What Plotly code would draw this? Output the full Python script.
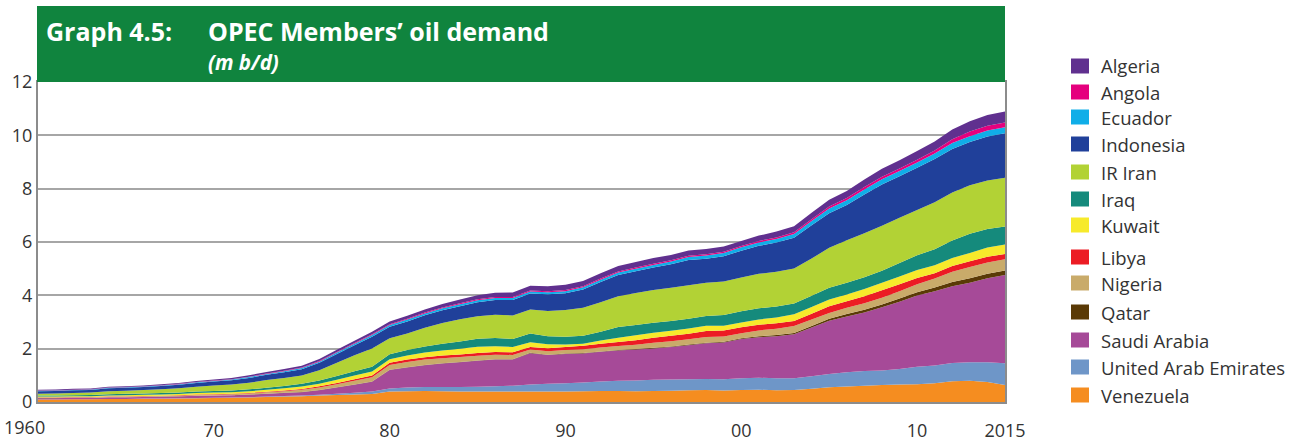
import plotly.graph_objects as go

years = list(range(1960, 2016))

# demand by country, m b/d (bottom of stack first)
venezuela = [0.09, 0.09, 0.10, 0.10, 0.11, 0.11, 0.12, 0.12, 0.13, 0.14,
             0.15, 0.16, 0.17, 0.19, 0.21, 0.22, 0.24, 0.26, 0.28, 0.30,
             0.39, 0.40, 0.41, 0.40, 0.39, 0.39, 0.39, 0.39, 0.39, 0.39,
             0.39, 0.40, 0.41, 0.41, 0.40, 0.41, 0.42, 0.44, 0.45, 0.43,
             0.45, 0.46, 0.44, 0.45, 0.50, 0.55, 0.58, 0.61, 0.64, 0.66,
             0.67, 0.70, 0.78, 0.80, 0.75, 0.64]
uae = [0.005, 0.005, 0.005, 0.005, 0.005, 0.006, 0.007, 0.008, 0.009, 0.01,
       0.01, 0.01, 0.012, 0.015, 0.018, 0.02, 0.03, 0.05, 0.07, 0.09,
       0.12, 0.14, 0.15, 0.16, 0.17, 0.185, 0.20, 0.22, 0.27, 0.29,
       0.31, 0.33, 0.36, 0.39, 0.41, 0.42, 0.42, 0.41, 0.41, 0.42,
       0.44, 0.45, 0.45, 0.44, 0.47, 0.50, 0.54, 0.55, 0.54, 0.58,
       0.65, 0.67, 0.68, 0.69, 0.74, 0.81]
saudi = [0.05, 0.05, 0.05, 0.05, 0.06, 0.06, 0.06, 0.07, 0.07, 0.08,
         0.08, 0.08, 0.09, 0.10, 0.11, 0.13, 0.17, 0.23, 0.30, 0.37,
         0.69, 0.75, 0.82, 0.88, 0.93, 0.97, 1.00, 0.98, 1.17, 1.08,
         1.10, 1.09, 1.11, 1.13, 1.16, 1.18, 1.22, 1.28, 1.34, 1.38,
         1.47, 1.52, 1.58, 1.65, 1.82, 2.00, 2.09, 2.20, 2.37, 2.52,
         2.67, 2.78, 2.88, 2.98, 3.15, 3.31]
qatar = [0.002, 0.002, 0.002, 0.003, 0.003, 0.003, 0.003, 0.004, 0.004, 0.004,
         0.005, 0.005, 0.005, 0.006, 0.006, 0.007, 0.008, 0.009, 0.01, 0.01,
         0.01, 0.012, 0.012, 0.013, 0.013, 0.014, 0.014, 0.015, 0.015, 0.016,
         0.016, 0.017, 0.018, 0.019, 0.02, 0.021, 0.022, 0.024, 0.026, 0.028,
         0.03, 0.035, 0.04, 0.05, 0.06, 0.07, 0.09, 0.10, 0.11, 0.12,
         0.13, 0.14, 0.16, 0.17, 0.17, 0.17]
nigeria = [0.02, 0.02, 0.02, 0.02, 0.025, 0.025, 0.025, 0.02, 0.02, 0.025,
           0.03, 0.035, 0.04, 0.05, 0.06, 0.08, 0.10, 0.12, 0.14, 0.16,
           0.18, 0.20, 0.20, 0.19, 0.18, 0.18, 0.17, 0.16, 0.12, 0.13,
           0.13, 0.14, 0.15, 0.15, 0.16, 0.19, 0.20, 0.20, 0.21, 0.20,
           0.19, 0.22, 0.24, 0.26, 0.24, 0.22, 0.23, 0.24, 0.25, 0.27,
           0.30, 0.34, 0.38, 0.42, 0.42, 0.42]
libya = [0.01, 0.01, 0.01, 0.01, 0.01, 0.012, 0.014, 0.016, 0.018, 0.02,
         0.02, 0.02, 0.022, 0.025, 0.03, 0.035, 0.04, 0.045, 0.05, 0.06,
         0.08, 0.09, 0.09, 0.10, 0.10, 0.10, 0.10, 0.10, 0.10, 0.11,
         0.12, 0.13, 0.14, 0.15, 0.17, 0.19, 0.20, 0.21, 0.23, 0.22,
         0.22, 0.21, 0.20, 0.19, 0.22, 0.25, 0.25, 0.27, 0.28, 0.27,
         0.23, 0.20, 0.22, 0.22, 0.22, 0.20]
kuwait = [0.03, 0.03, 0.03, 0.03, 0.035, 0.04, 0.04, 0.045, 0.05, 0.055,
          0.06, 0.06, 0.065, 0.07, 0.08, 0.09, 0.10, 0.12, 0.14, 0.15,
          0.13, 0.15, 0.17, 0.19, 0.21, 0.23, 0.22, 0.20, 0.18, 0.15,
          0.09, 0.08, 0.12, 0.16, 0.18, 0.19, 0.19, 0.19, 0.19, 0.18,
          0.18, 0.20, 0.22, 0.25, 0.25, 0.25, 0.25, 0.27, 0.28, 0.29,
          0.30, 0.30, 0.30, 0.31, 0.34, 0.36]
iraq = [0.04, 0.04, 0.04, 0.045, 0.045, 0.05, 0.05, 0.055, 0.055, 0.06,
        0.06, 0.065, 0.07, 0.075, 0.085, 0.10, 0.12, 0.14, 0.16, 0.18,
        0.19, 0.21, 0.23, 0.25, 0.28, 0.30, 0.31, 0.30, 0.32, 0.30,
        0.29, 0.30, 0.33, 0.40, 0.39, 0.37, 0.37, 0.37, 0.37, 0.40,
        0.42, 0.42, 0.41, 0.40, 0.42, 0.44, 0.44, 0.44, 0.45, 0.50,
        0.55, 0.60, 0.66, 0.72, 0.70, 0.67]
iran = [0.06, 0.07, 0.08, 0.09, 0.11, 0.12, 0.13, 0.14, 0.16, 0.18,
        0.20, 0.22, 0.25, 0.29, 0.30, 0.31, 0.38, 0.50, 0.60, 0.69,
        0.60, 0.62, 0.70, 0.78, 0.83, 0.85, 0.87, 0.88, 0.90, 0.95,
        1.00, 1.05, 1.10, 1.16, 1.20, 1.23, 1.24, 1.25, 1.25, 1.26,
        1.27, 1.29, 1.30, 1.32, 1.40, 1.50, 1.60, 1.65, 1.69, 1.70,
        1.70, 1.76, 1.80, 1.82, 1.82, 1.83]
indonesia = [0.10, 0.10, 0.10, 0.10, 0.11, 0.11, 0.11, 0.12, 0.13, 0.14,
             0.15, 0.16, 0.18, 0.20, 0.22, 0.24, 0.28, 0.33, 0.38, 0.44,
             0.43, 0.45, 0.47, 0.48, 0.49, 0.52, 0.55, 0.58, 0.60, 0.62,
             0.63, 0.68, 0.76, 0.79, 0.81, 0.84, 0.88, 0.95, 0.90, 0.95,
             1.00, 1.05, 1.10, 1.15, 1.25, 1.30, 1.32, 1.45, 1.55, 1.56,
             1.58, 1.62, 1.63, 1.62, 1.65, 1.67]
ecuador = [0.015, 0.015, 0.016, 0.017, 0.018, 0.019, 0.02, 0.021, 0.022, 0.023,
           0.025, 0.027, 0.03, 0.033, 0.036, 0.04, 0.045, 0.05, 0.055, 0.06,
           0.07, 0.07, 0.07, 0.075, 0.075, 0.08, 0.08, 0.075, 0.08, 0.08,
           0.08, 0.085, 0.09, 0.095, 0.10, 0.10, 0.11, 0.11, 0.12, 0.12,
           0.13, 0.13, 0.13, 0.14, 0.16, 0.18, 0.18, 0.19, 0.19, 0.19,
           0.20, 0.21, 0.22, 0.22, 0.22, 0.22]
angola = [0.01, 0.01, 0.01, 0.01, 0.01, 0.01, 0.012, 0.012, 0.013, 0.014,
          0.015, 0.015, 0.016, 0.017, 0.018, 0.02, 0.02, 0.022, 0.025, 0.028,
          0.03, 0.03, 0.03, 0.03, 0.032, 0.034, 0.034, 0.035, 0.036, 0.038,
          0.04, 0.04, 0.04, 0.04, 0.04, 0.042, 0.044, 0.046, 0.048, 0.05,
          0.05, 0.055, 0.06, 0.063, 0.066, 0.07, 0.08, 0.09, 0.10, 0.10,
          0.10, 0.11, 0.14, 0.17, 0.18, 0.18]
algeria = [0.03, 0.03, 0.03, 0.03, 0.03, 0.03, 0.032, 0.034, 0.036, 0.038,
           0.04, 0.045, 0.05, 0.055, 0.06, 0.07, 0.075, 0.08, 0.09, 0.10,
           0.10, 0.11, 0.12, 0.13, 0.14, 0.15, 0.16, 0.17, 0.18, 0.19,
           0.20, 0.20, 0.20, 0.21, 0.21, 0.22, 0.20, 0.20, 0.19, 0.19,
           0.19, 0.20, 0.22, 0.23, 0.24, 0.25, 0.26, 0.28, 0.30, 0.31,
           0.33, 0.34, 0.37, 0.39, 0.40, 0.41]

tick_vals = [1960, 1970, 1980, 1990, 2000, 2010, 2015]
tick_text = ["", "70", "80", "90", "00", "10", "2015"]
first_year_label = "1960"

# stacking order: bottom -> top
series = [
    ("Venezuela", venezuela, "#f58d20"),
    ("United Arab Emirates", uae, "#6e96c8"),
    ("Saudi Arabia", saudi, "#a64a98"),
    ("Qatar", qatar, "#5a3a06"),
    ("Nigeria", nigeria, "#c9ab6a"),
    ("Libya", libya, "#ec1c24"),
    ("Kuwait", kuwait, "#f7ea2b"),
    ("Iraq", iraq, "#158a7c"),
    ("IR Iran", iran, "#b2d235"),
    ("Indonesia", indonesia, "#20409a"),
    ("Ecuador", ecuador, "#10aee8"),
    ("Angola", angola, "#e5007e"),
    ("Algeria", algeria, "#60308f"),
]

# plot box in pixels, used to place the title band and legend
W, H = 1301, 441
L, R, T, B = 38, 296, 82, 39
pw, ph = W - L - R, H - T - B


def px(x):
    return (x - L) / pw


def py(y):
    return (H - B - y) / ph


fig = go.Figure()

for name, vals, col in series:
    fig.add_trace(go.Scatter(
        x=years, y=vals, name=name, mode="none",
        stackgroup="one", fillcolor=col, line=dict(width=0),
        showlegend=False, hoverinfo="x+y+name",
    ))

shapes = [
    dict(type="rect", xref="paper", yref="paper",
         x0=px(37), x1=px(1005), y0=1.0, y1=py(6),
         fillcolor="#10843e", line=dict(width=0), layer="above"),
]

title_font = dict(family="Open Sans", size=25, color="white")
annotations = [
    dict(text="<b>Graph 4.5:</b>", x=px(44), y=py(31)),
    dict(text="<b>OPEC Members’ oil demand</b>", x=px(206), y=py(31)),
    dict(text="<b><i>(m b/d)</i></b>", x=px(206), y=py(62),
         font=dict(family="Open Sans", size=20.5, color="white")),
    # first x label sits left of the axis in the original
    dict(text=first_year_label, x=px(24), y=py(427),
         font=dict(family="Open Sans", size=18, color="#333333")),
]
for a in annotations:
    a.update(xref="paper", yref="paper", xanchor="left", yanchor="middle",
             showarrow=False)
    a.setdefault("font", title_font)
annotations[-1]["xanchor"] = "center"

# legend drawn by hand: top row Algeria, bottom Venezuela
legend_rows = [66, 92, 117, 144, 172, 199, 225, 257, 283, 312, 340, 367, 395]
for (name, vals, col), yc in zip(reversed(series), legend_rows):
    shapes.append(dict(
        type="rect", xref="paper", yref="paper",
        x0=px(1071), x1=px(1089), y0=py(yc + 7.5), y1=py(yc - 7.5),
        fillcolor=col, line=dict(width=0),
    ))
    annotations.append(dict(
        text=name, xref="paper", yref="paper", x=px(1099), y=py(yc),
        xanchor="left", yanchor="middle", showarrow=False,
        font=dict(family="Open Sans", size=18.5, color="#333333"),
    ))

grey = "#8c8c8c"

fig.update_layout(
    width=W, height=H,
    plot_bgcolor="white", paper_bgcolor="white",
    margin=dict(l=L, r=R, t=T, b=B, autoexpand=False),
    font=dict(family="Open Sans", size=18, color="#333333"),
    showlegend=False,
    shapes=shapes,
    annotations=annotations,
)

fig.update_xaxes(
    range=[1960, 2015], tickvals=tick_vals, ticktext=tick_text,
    showgrid=False, zeroline=False, showline=True, linecolor=grey,
    linewidth=2, mirror=True, ticks="", tickfont=dict(size=18),
    ticklabelstandoff=11,
)
fig.update_yaxes(
    range=[0, 12], dtick=2, showgrid=True, gridcolor="#a6a6a6", gridwidth=1.5,
    zeroline=False, showline=True, linecolor=grey, linewidth=2, mirror=True,
    ticks="", tickfont=dict(size=18),
)

# page body has a default margin; drop it so the chart sits at 0,0
fig.write_html("out.html", config={"displayModeBar": False},
               post_script="document.body.style.margin = '0';")
